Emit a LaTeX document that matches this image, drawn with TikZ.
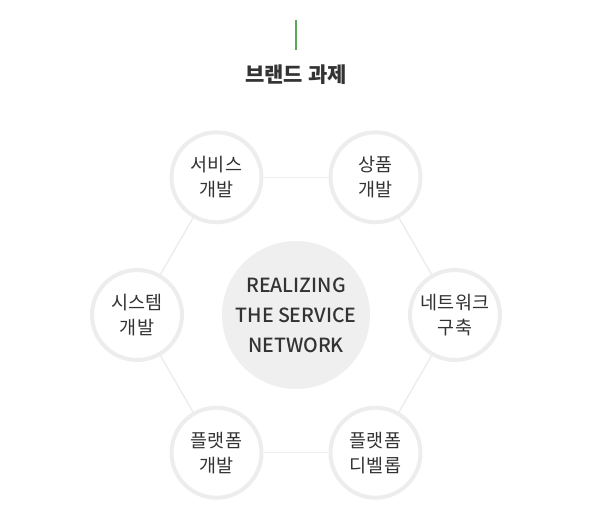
\documentclass[tikz,border=0pt]{standalone}
\usepackage{fontspec}
\setmainfont{Noto Sans CJK KR}
\newfontfamily\hubfont{Noto Sans CJK KR Medium}
\usetikzlibrary{calc}
\definecolor{ringgray}{HTML}{EDEDED}
\definecolor{hubgray}{HTML}{EFEFEF}
\definecolor{textgray}{HTML}{333333}
\definecolor{markgreen}{HTML}{5AA65A}
\tikzset{
  item/.style={circle, draw=ringgray, line width=4pt, fill=white, minimum size=90pt,
    inner sep=0pt, align=center, text=textgray, font=\fontsize{18.5pt}{25pt}\selectfont},
  hub/.style={circle, fill=hubgray, minimum size=148pt, inner sep=0pt, align=center,
    text=textgray, font=\hubfont\fontsize{19.5pt}{30pt}\selectfont},
  link/.style={draw=ringgray, line width=1.5pt}
}
\begin{document}
\begin{tikzpicture}[x=1pt, y=1pt]
  \useasboundingbox (0,0) rectangle (591,531);
  % Title with green mark
  \coordinate (marktop) at (296,511);
  \coordinate (markbot) at (296,481);
  \draw[markgreen, line width=2pt] (marktop) -- (markbot);
  \node[text=textgray, font=\fontsize{21pt}{26pt}\selectfont\bfseries] (title) at (296,456) {브랜드 과제};

  % Center
  \node[hub] (hub) at (296,216) {REALIZING\\THE SERVICE\\NETWORK};

  % Outer circles (hexagon)
  \foreach \ang/\txt [count=\i from 0] in {0/{네트워크\\구축}, 60/{상품\\개발}, 120/{서비스\\개발},
      180/{시스템\\개발}, 240/{플랫폼\\개발}, 300/{플랫폼\\디벨롭}} {
    \node[item] (item\i) at ($(hub)+(\ang:159)$) {\txt};
  }

  % Hexagon edges
  \foreach \i in {0,...,5} {
    \pgfmathsetmacro{\next}{int(mod(\i+1,6))}
    \draw[link] (item\i) -- (item\next);
  }
\end{tikzpicture}
\end{document}
